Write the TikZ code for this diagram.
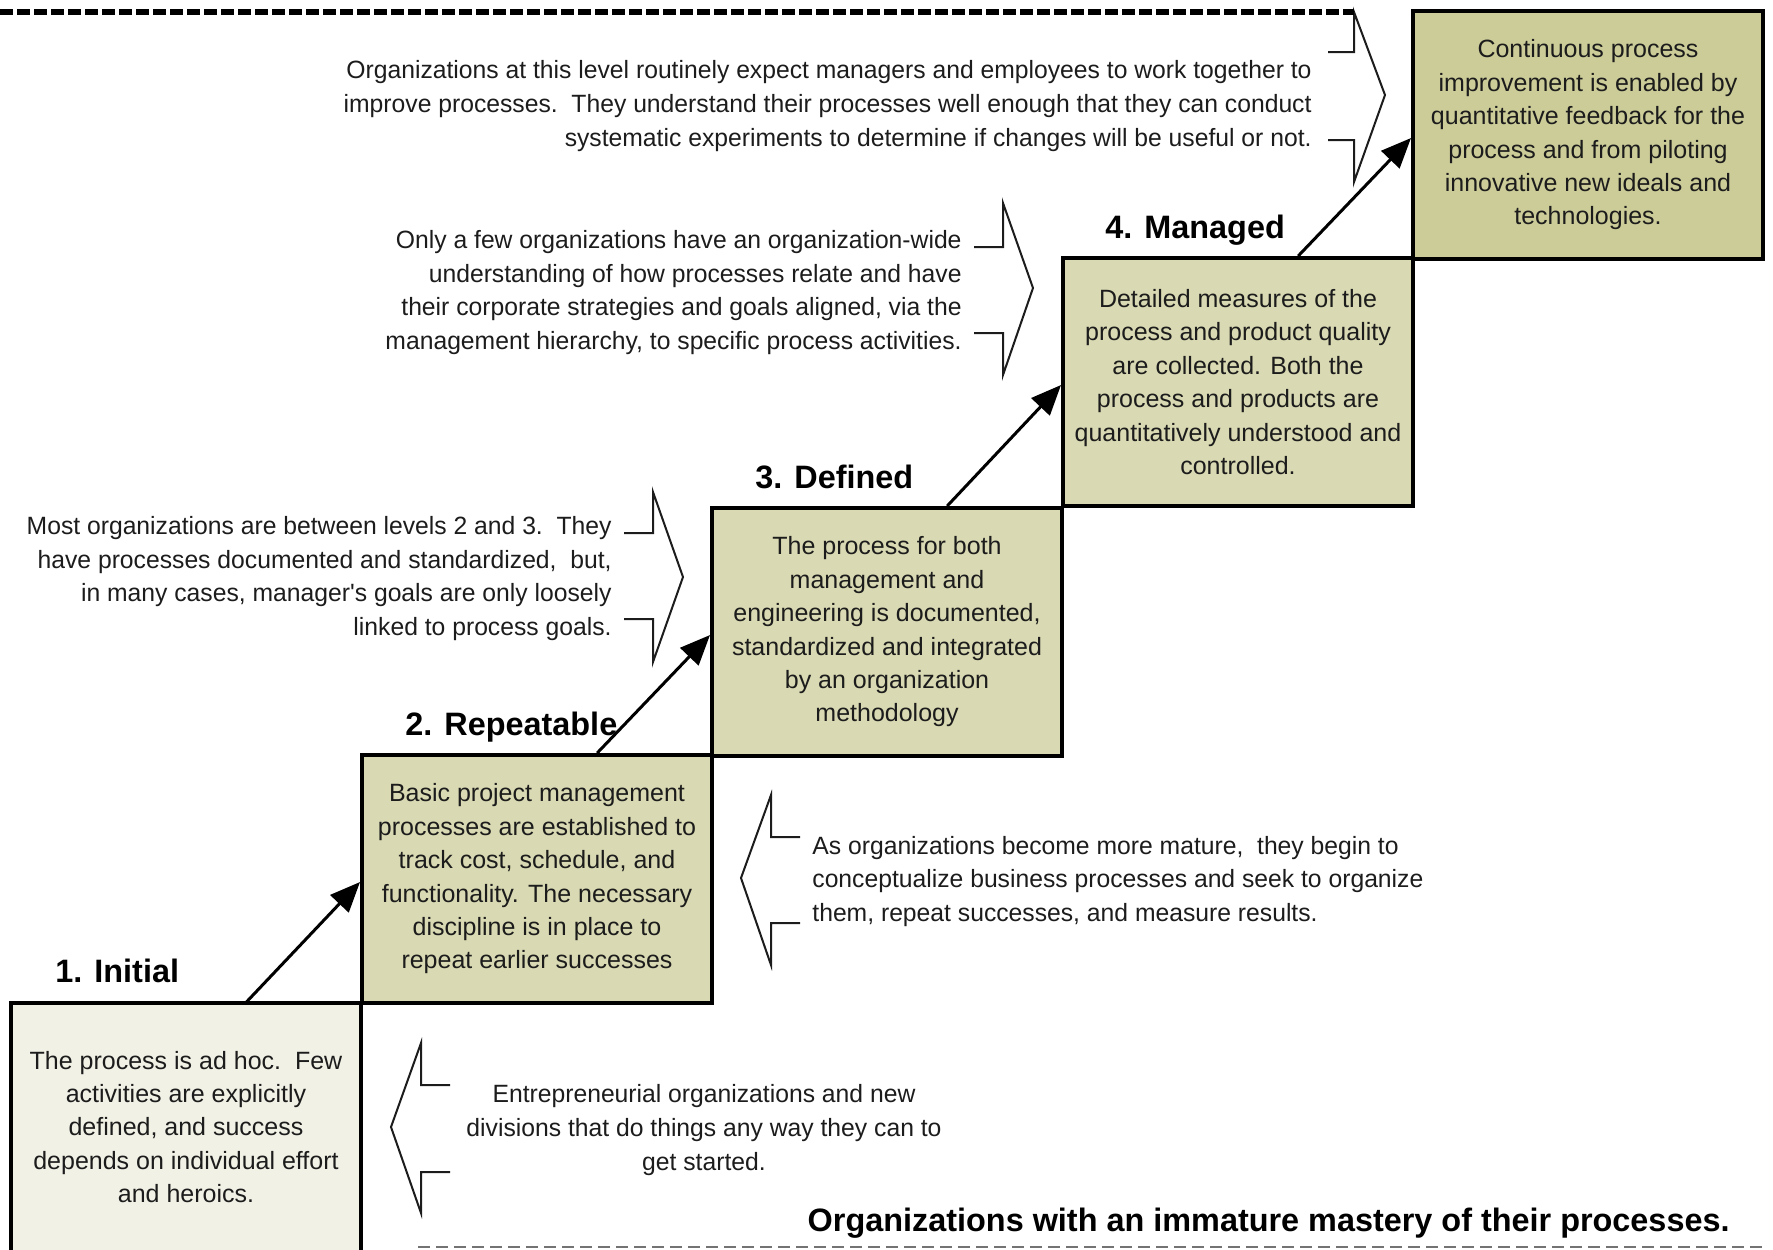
\documentclass[tikz,border=0pt]{standalone}
\usepackage{fontspec}
\setmainfont{Liberation Sans}
\newfontfamily\notefont{Liberation Sans}[FakeStretch=0.988]
\usetikzlibrary{arrows.meta,calc}

\definecolor{initfill}{RGB}{242,241,230}
\definecolor{stepfill}{RGB}{217,217,179}
\definecolor{topfill}{RGB}{204,204,153}
\definecolor{inkgray}{RGB}{28,28,28}

\begin{document}
\begin{tikzpicture}[x=0.5pt,y=-0.5pt,
  stepbox/.style={draw=black,line width=2pt,fill=stepfill,
    minimum width=175pt,minimum height=124pt,anchor=north west,
    inner sep=0pt,align=center,text=inkgray,
    font=\fontsize{12.5pt}{16.7pt}\selectfont},
  note/.style={inner sep=0pt,text=inkgray,
    font=\notefont\fontsize{12.5pt}{16.9pt}\selectfont},
  level/.style={inner sep=0pt,text=black,
    font=\fontsize{16.2pt}{19pt}\selectfont\bfseries},
  climb/.style={line width=1.5pt,-{Triangle[length=15pt,width=12.5pt]}},
  chevron/.style={line width=1pt,draw=inkgray,line join=miter},
  topdash/.style={line width=2.6pt,dash pattern=on 6.5pt off 2pt},
  botdash/.style={line width=0.8pt,draw=black!55,dash pattern=on 6pt off 3pt}]

\useasboundingbox (0,0) rectangle (1773,1249);

% ---- the five maturity steps (the lowest one is open at the bottom)
\node[stepbox,draw=none,outer sep=0pt,fill=initfill] (b1) at (11,1003)
  {The process is ad hoc.\ \ Few\\activities are explicitly\\defined, and success\\depends on individual effort\\and heroics.};
\draw[line width=2pt] (b1.south west) -- (b1.north west) -- (b1.north east) -- (b1.south east);
\node[stepbox] (b2) at (360,753)
  {Basic project management\\processes are established to\\track cost, schedule, and\\functionality. The necessary\\discipline is in place to\\repeat earlier successes};
\node[stepbox] (b3) at (710,506)
  {The process for both\\management and\\engineering is documented,\\standardized and integrated\\by an organization\\methodology};
\node[stepbox] (b4) at (1061,256)
  {Detailed measures of the\\process and product quality\\are collected. Both the\\process and products are\\quantitatively understood and\\controlled.};
\node[stepbox,fill=topfill] (b5) at (1411,9)
  {Continuous process\\improvement is enabled by\\quantitative feedback for the\\process and from piloting\\innovative new ideals and\\technologies.};

% ---- level titles
\node[level,anchor=base west] (l1) at (55,982) {1. Initial};
\node[level,anchor=base west] (l2) at (405,735) {2. Repeatable};
\node[level,anchor=base west] (l3) at (755,488) {3. Defined};
\node[level,anchor=base west] (l4) at (1105,238) {4. Managed};

% ---- arrows climbing the stairs
\draw[climb] ($(b1.north west)!0.67!(b1.north east)$) -- ($(b2.north west)!0.512!(b2.south west)$);
\draw[climb] ($(b2.north west)!0.67!(b2.north east)$) -- ($(b3.north west)!0.512!(b3.south west)$);
\draw[climb] ($(b3.north west)!0.67!(b3.north east)$) -- ($(b4.north west)!0.512!(b4.south west)$);
\draw[climb] ($(b4.north west)!0.67!(b4.north east)$) -- ($(b5.north west)!0.512!(b5.south west)$);

% ---- descriptive notes
\node[note,align=right,anchor=east] (t5) at (1312,106)
  {Organizations at this level routinely expect managers and employees to work together to\\improve processes.\ \ They understand their processes well enough that they can conduct\\systematic experiments to determine if changes will be useful or not.};
\node[note,align=right,anchor=east] (t4) at (962,292.5)
  {Only a few organizations have an organization-wide\\understanding of how processes relate and have\\their corporate strategies and goals aligned, via the\\management hierarchy, to specific process activities.};
\node[note,align=right,anchor=east] (t3) at (612,578.5)
  {Most organizations are between levels 2 and 3.\ \ They\\have processes documented and standardized,\ \ but,\\in many cases, manager's goals are only loosely\\linked to process goals.};
\node[note,align=left,anchor=west] (t2) at (812,881.5)
  {As organizations become more mature,\ \ they begin to\\conceptualize business processes and seek to organize\\them, repeat successes, and measure results.};
\node[note,align=center] (t1) at (704,1130)
  {Entrepreneurial organizations and new\\divisions that do things any way they can to\\get started.};

% ---- bracket chevrons beside the notes
\coordinate (c5top) at (1354,12);
\draw[chevron] (1328,52) -- (1354,52) -- (c5top) -- (1385,95) -- (1354,182) -- (1354,140) -- (1328,140);
\draw[chevron] (974,247) -- (1003,247) -- (1003,203) -- (1033,288) -- (1003,375) -- (1003,333) -- (974,333);
\draw[chevron] (624,533) -- (653,533) -- (653,492) -- (683,577) -- (653,662) -- (653,619) -- (624,619);
\draw[chevron] (800,837) -- (771,837) -- (771,795) -- (741,878) -- (771,965) -- (771,923) -- (800,923);
\draw[chevron] (450,1085) -- (421,1085) -- (421,1043) -- (391,1127) -- (421,1213) -- (421,1172) -- (450,1172);

% ---- boundary lines
\coordinate (topleft) at (0,12);
\draw[topdash] (topleft) -- (c5top);
\coordinate (botleft) at (418,1247);
\coordinate (botright) at (1762,1247);
\draw[botdash] (botleft) -- (botright);

\node[level,anchor=base east] (lb) at (1730,1231) {Organizations with an immature mastery of their processes.};

\end{tikzpicture}
\end{document}
